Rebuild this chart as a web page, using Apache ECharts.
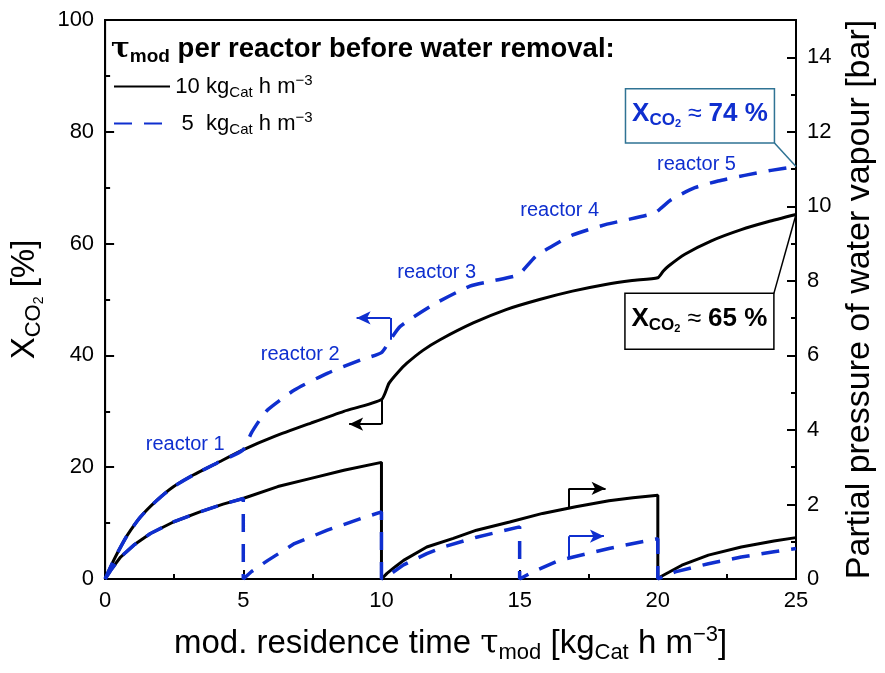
<!DOCTYPE html>
<html>
<head>
<meta charset="utf-8">
<script src="https://cdn.jsdelivr.net/npm/echarts@6/dist/echarts.min.js"></script>
<style>
  html, body { margin: 0; padding: 0; background: #fff; }
  #main { width: 885px; height: 673px; }
</style>
</head>
<body>
<div id="main"></div>
<script>
var FONT = '"Liberation Sans", Arial, sans-serif';
var BLUE = '#0f2fcf';
var TEAL = '#2f7394';

// X_CO2 [%], 10 kgCat h m-3 per reactor
var convTau10 = [0, 0.2, 0.44, 0.8, 1.28, 1.88, 2.47, 3.19, 4.03, 4.99, 6.13, 7.45, 8.64, 10,
  10.27, 10.6, 10.92, 11.5, 12.12, 13.32, 14.51, 15.72, 16.91, 18.11, 19.07, 20,
  20.2, 20.39, 20.98, 21.94, 23.02, 23.98, 25];
var convX10 = [0, 2.2, 4.6, 7.8, 11.1, 14.1, 16.5, 18.6, 20.7, 23.1, 25.5, 27.9, 30.0, 32.1,
  35.0, 37.0, 38.6, 40.9, 42.8, 45.8, 48.2, 50.0, 51.5, 52.7, 53.4, 53.9,
  55.1, 56.0, 58.1, 60.5, 62.5, 63.9, 65.2];

// X_CO2 [%], 5 kgCat h m-3 per reactor
var convTau5 = [0, 0.2, 0.44, 0.8, 1.28, 1.88, 2.47, 3.19, 4.03, 4.99,
  5.29, 5.6, 5.89, 6.85, 8.04, 9.25, 10, 10.32, 10.68, 11.88, 13.2, 14.0, 14.9,
  15.1, 15.6, 16.2, 16.9, 18.1, 18.83, 19.9, 20.15, 20.5, 21.34, 22.18, 23.14, 24.1, 25];
var convX5 = [0, 2.2, 4.6, 7.8, 11.1, 14.1, 16.5, 18.6, 20.7, 23.1,
  26.1, 28.5, 30.3, 33.8, 36.8, 39.2, 40.5, 42.8, 45.2, 49.1, 52.4, 53.3, 54.3,
  55.1, 57.8, 59.6, 61.5, 63.4, 64.2, 65.5, 66.5, 67.9, 70.0, 71.2, 72.2, 73.1, 73.8];

// partial pressure of water vapour [bar], 10 kgCat h m-3
var presTau10 = [0, 0.2, 0.56, 1.04, 1.64, 2.47, 3.43, 4.27, 4.99, 6.25, 7.45, 8.64, 10,
  10, 10.2, 10.5, 10.8, 11.64, 12.6, 13.44, 14.64, 15.83, 17.03, 18.23, 19.1, 20,
  20, 20.15, 20.4, 20.87, 21.83, 23.02, 24.2, 25];
var presP10 = [0, 0.23, 0.59, 0.91, 1.22, 1.53, 1.80, 2.01, 2.16, 2.48, 2.70, 2.92, 3.13,
  0, 0.15, 0.33, 0.5, 0.86, 1.09, 1.31, 1.53, 1.76, 1.94, 2.10, 2.18, 2.25,
  0, 0.08, 0.18, 0.37, 0.64, 0.86, 1.02, 1.11];

// partial pressure of water vapour [bar], 5 kgCat h m-3
var presTau5 = [0, 0.2, 0.56, 1.04, 1.64, 2.47, 3.43, 4.27, 5,
  5, 5.3, 5.89, 6.85, 8.04, 9.25, 10,
  10, 10.2, 10.8, 11.64, 12.24, 13.44, 15,
  15, 15.5, 16.43, 18.23, 19.43, 20,
  20, 20.63, 21.83, 23.02, 24.2, 25];
var presP5 = [0, 0.23, 0.59, 0.91, 1.22, 1.53, 1.80, 2.01, 2.16,
  0, 0.2, 0.5, 0.95, 1.31, 1.62, 1.80,
  0, 0.07, 0.38, 0.68, 0.86, 1.12, 1.40,
  0, 0.2, 0.5, 0.82, 1.0, 1.08,
  0, 0.19, 0.41, 0.59, 0.73, 0.82];

// axis arrows (corner points)
var arrowConv10 = [[10, 32.1], [10, 27.7], [8.83, 27.7]];
var arrowConv5 = [[10.32, 42.8], [10.32, 46.7], [9.1, 46.7]];
var arrowPres10 = [[16.79, 1.89], [16.79, 2.43], [18.11, 2.43]];
var arrowPres5 = [[16.79, 0.57], [16.79, 1.15], [18.05, 1.15]];

// reactor labels
var reactorNames = ['reactor 1', 'reactor 2', 'reactor 3', 'reactor 4', 'reactor 5'];
var reactorTau = [2.90, 7.06, 12.0, 16.45, 21.4];
var reactorX = [24.0, 40.1, 54.8, 65.9, 74.2];

function zip(a, b) {
  var out = [];
  for (var i = 0; i < a.length; i++) out.push([a[i], b[i]]);
  return out;
}

function arrowLine(pts, color) {
  return {
    silent: true,
    animation: false,
    symbol: ['none', 'none'],
    label: { show: false },
    lineStyle: { type: 'solid', color: color, width: 2 },
    data: [
      [{ coord: pts[0] }, { coord: pts[1] }],
      [{ coord: pts[1] }, { coord: pts[2], symbol: 'arrow', symbolSize: [10, 14] }]
    ]
  };
}

var chart = echarts.init(document.getElementById('main'));

var tickLabel = { fontSize: 22, color: '#000', fontFamily: FONT, margin: 11 };
var axisBase = {
  axisLine: { show: true, onZero: false, lineStyle: { color: '#000', width: 2 } },
  axisTick: { show: true, inside: true, length: 9, lineStyle: { color: '#000', width: 2 } },
  minorTick: { show: true, splitNumber: 2, length: 5, lineStyle: { color: '#000', width: 2 } },
  splitLine: { show: false },
  axisLabel: tickLabel
};
var nameStyle = {
  fontSize: 33, color: '#000', fontFamily: FONT,
  rich: {
    t: { fontSize: 33, fontFamily: '"DejaVu Serif", serif', color: '#000' },
    sub: { fontSize: 22, fontFamily: FONT, color: '#000', padding: [18, 0, 0, 0] },
    sub2: { fontSize: 14, fontFamily: FONT, color: '#000', padding: [30, 0, 0, 0] },
    sup: { fontSize: 22, fontFamily: FONT, color: '#000', padding: [0, 0, 18, 0] },
    n: { fontSize: 33, fontFamily: FONT, color: '#000' }
  }
};

var option = {
  animation: false,
  backgroundColor: '#fff',
  grid: {
    left: 100, right: 89, top: 20, bottom: 94,
    show: true, borderColor: '#000', borderWidth: 2, backgroundColor: 'transparent'
  },
  title: {
    text: '{t|τ}{m|mod}{b| per reactor before water removal:}',
    left: 106, top: 28,
    textStyle: {
      rich: {
        t: { fontSize: 28, fontFamily: '"DejaVu Serif", serif', color: '#000' },
        m: { fontSize: 19, fontWeight: 'bold', fontFamily: FONT, color: '#000', padding: [14, 0, 0, 0] },
        b: { fontSize: 27.5, fontWeight: 'bold', fontFamily: FONT, color: '#000' }
      }
    }
  },
  legend: {
    data: ['10 kg', '5 kg'],
    orient: 'vertical',
    left: 108, top: 68,
    itemWidth: 56, itemHeight: 14, itemGap: 10,
    itemStyle: { opacity: 0 },
    formatter: function (name) {
      var num = name === '10 kg' ? '10' : '5';
      return '{n|' + num + '} kg{s|Cat} h m{p|−3}';
    },
    textStyle: {
      fontSize: 22, color: '#000', fontFamily: FONT,
      rich: {
        n: { fontSize: 22, fontFamily: FONT, color: '#000', width: 25, align: 'right' },
        s: { fontSize: 15, fontFamily: FONT, color: '#000', padding: [12, 0, 0, 0] },
        p: { fontSize: 15, fontFamily: FONT, color: '#000', padding: [0, 0, 12, 0] }
      }
    }
  },
  xAxis: Object.assign({}, axisBase, {
    type: 'value', min: 0, max: 25, interval: 5,
    name: 'mod. residence time {t|τ}{sub|mod} [kg{sub|Cat} h m{sup|−3}]',
    nameLocation: 'middle', nameGap: 45,
    nameTextStyle: nameStyle
  }),
  yAxis: [
    Object.assign({}, axisBase, {
      type: 'value', min: 0, max: 100, interval: 20, position: 'left',
      name: '{n|X}{sub|CO}{sub2|2}{n| [%]}',
      nameLocation: 'middle', nameGap: 50,
      nameTextStyle: nameStyle
    }),
    Object.assign({}, axisBase, {
      type: 'value', min: 0, max: 15, interval: 2, position: 'right',
      axisLabel: Object.assign({}, tickLabel, { showMaxLabel: false }),
      name: 'Partial pressure of water vapour [bar]',
      nameLocation: 'middle', nameGap: 46,
      nameTextStyle: Object.assign({}, nameStyle, { fontSize: 34 })
    })
  ],
  series: [
    {
      name: '10 kg', type: 'line', yAxisIndex: 0, z: 3,
      showSymbol: false, symbol: 'none', smooth: 0.2,
      lineStyle: { color: '#000', width: 3 }, itemStyle: { color: '#000' },
      data: zip(convTau10, convX10),
      markLine: arrowLine(arrowConv10, '#000')
    },
    {
      name: '5 kg', type: 'line', yAxisIndex: 0, z: 4,
      showSymbol: false, symbol: 'none', smooth: 0.2,
      lineStyle: { color: BLUE, width: 3.5, type: [18, 12] }, itemStyle: { color: BLUE },
      data: zip(convTau5, convX5),
      markLine: arrowLine(arrowConv5, BLUE)
    },
    {
      name: 'p 10 kg', type: 'line', yAxisIndex: 1, z: 3,
      showSymbol: false, symbol: 'none',
      lineStyle: { color: '#000', width: 3 },
      data: zip(presTau10, presP10),
      markLine: arrowLine(arrowPres10, '#000')
    },
    {
      name: 'p 5 kg', type: 'line', yAxisIndex: 1, z: 4,
      showSymbol: false, symbol: 'none',
      lineStyle: { color: BLUE, width: 3.5, type: [18, 12] },
      data: zip(presTau5, presP5),
      markLine: arrowLine(arrowPres5, BLUE)
    }
  ]
};

chart.setOption(option);

// annotations placed in data coordinates
function px(x, y) {
  return chart.convertToPixel({ xAxisIndex: 0, yAxisIndex: 0 }, [x, y]);
}

var graphics = [];
for (var i = 0; i < reactorNames.length; i++) {
  var p = px(reactorTau[i], reactorX[i]);
  graphics.push({
    type: 'text', z: 10,
    style: {
      text: reactorNames[i], x: p[0], y: p[1],
      fill: BLUE, fontSize: 20, fontFamily: FONT,
      align: 'center', verticalAlign: 'middle'
    }
  });
}

function boxNote(tl, br, target, value, color, border, corner) {
  var a = px(tl[0], tl[1]);
  var b = px(br[0], br[1]);
  var t = px(target[0], target[1]);
  var c = corner === 'bottom' ? [b[0], b[1]] : [b[0], a[1]];
  graphics.push({
    type: 'line', z: 10,
    shape: { x1: c[0], y1: c[1], x2: t[0], y2: t[1] },
    style: { stroke: border, lineWidth: 1.5 }
  });
  graphics.push({
    type: 'rect', z: 10,
    shape: { x: a[0], y: a[1], width: b[0] - a[0], height: b[1] - a[1] },
    style: { fill: '#fff', stroke: border, lineWidth: 1.5 }
  });
  graphics.push({
    type: 'text', z: 11,
    style: {
      text: '{x|X}{s|CO}{ss|2}{a| ≈ }{x|' + value + ' %}',
      x: (a[0] + b[0]) / 2, y: (a[1] + b[1]) / 2 - 2,
      align: 'center', verticalAlign: 'middle',
      rich: {
        x: { fontSize: 26, fontWeight: 'bold', fontFamily: FONT, fill: color, color: color },
        s: { fontSize: 17, fontWeight: 'bold', fontFamily: FONT, fill: color, color: color, padding: [12, 0, 0, 0] },
        ss: { fontSize: 11, fontWeight: 'bold', fontFamily: FONT, fill: color, color: color, padding: [20, 0, 0, 0] },
        a: { fontSize: 25, fontFamily: FONT, fill: color, color: color }
      }
    }
  });
}

boxNote([18.83, 87.7], [24.22, 78.0], [25, 73.8], '74', BLUE, TEAL, 'bottom');
boxNote([18.81, 51.1], [24.2, 41.1], [25, 65.2], '65', '#000', '#000', 'top');

chart.setOption({ graphic: graphics });
</script>
</body>
</html>
